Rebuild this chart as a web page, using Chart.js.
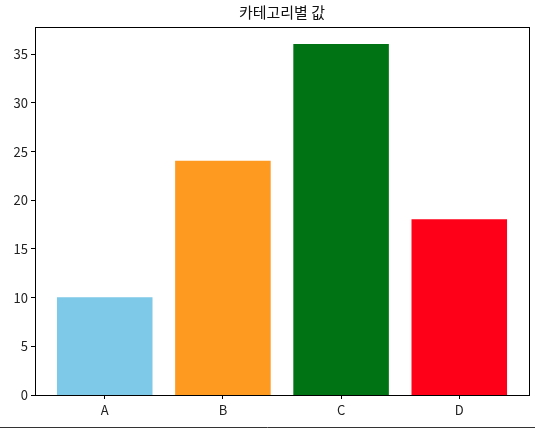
<!DOCTYPE html>
<html>
<head>
<meta charset="utf-8">
<script src="https://cdn.jsdelivr.net/npm/chart.js@4/dist/chart.umd.min.js"></script>
<style>
  html,body{margin:0;padding:0;background:#fff;}
  #wrap{width:535px;height:429px;position:relative;}
</style>
</head>
<body>
<div id="wrap"><canvas id="c" width="535" height="429"></canvas></div>
<script>
// chart data
const categories=['A','B','C','D'];
const values=[10,24,36,18];
const barColors=['#7EC9E7','#FF9A20','#007414','#FF0019'];
const yTicks=[0,5,10,15,20,25,30,35];
const chartTitle='카테고리별 값';

const FONT='"Noto Sans CJK KR", "DejaVu Sans", sans-serif';

// frame around plot area + the line along the bottom of the figure
const framePlugin={
  id:'frame',
  afterDraw(chart){
    const {ctx,chartArea:a}=chart;
    ctx.save();
    ctx.strokeStyle='#000'; ctx.lineWidth=1;
    ctx.strokeRect(Math.round(a.left)+0.5,Math.round(a.top)+0.5,Math.round(a.right-a.left),Math.round(a.bottom-a.top));
    ctx.strokeStyle='#333';
    ctx.beginPath(); ctx.moveTo(0,427.5); ctx.lineTo(chart.width,427.5); ctx.stroke();
    ctx.restore();
  }
};

new Chart(document.getElementById('c'),{
  type:'bar',
  data:{datasets:[{
    data:values.map((v,i)=>({x:i,y:v})),
    backgroundColor:barColors,
    borderWidth:0,
    inflateAmount:0.5,
    categoryPercentage:1,
    barPercentage:0.8
  }]},
  options:{
    responsive:false,animation:false,
    layout:{padding:{left:0,right:6,top:0,bottom:0}},
    plugins:{
      legend:{display:false},tooltip:{enabled:false},
      title:{display:true,text:chartTitle,fullSize:false,color:'#111',
        font:{family:FONT,size:15,weight:'normal',lineHeight:1.2},padding:{top:3,bottom:6}}
    },
    scales:{
      x:{type:'linear',min:-0.59,max:3.59,offset:false,
        afterBuildTicks(s){s.ticks=categories.map((c,i)=>({value:i}));},
        afterFit(s){s.height=34;},
        ticks:{callback:(v)=>categories[v]??'',color:'#222',font:{family:FONT,size:13},padding:3,maxRotation:0,autoSkip:false},
        grid:{drawOnChartArea:false,offset:false,tickLength:4,color:'#000'},
        border:{color:'#000'}},
      y:{min:0,max:37.8,
        afterBuildTicks(s){s.ticks=yTicks.map(v=>({value:v}));},
        afterFit(s){s.width=35;},
        ticks:{color:'#222',font:{family:FONT,size:13},padding:3},
        grid:{drawOnChartArea:false,tickLength:4,color:'#000'},
        border:{color:'#000'}}
    }
  },
  plugins:[framePlugin]
});
</script>
</body>
</html>
